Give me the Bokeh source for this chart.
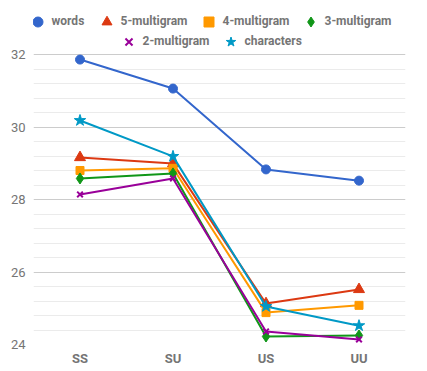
import numpy as np
from bokeh.plotting import figure
from bokeh.models import Legend, LegendItem, FixedTicker, Range1d, FactorRange
from bokeh.embed import file_html
from bokeh.resources import INLINE

categories = ["SS", "SU", "US", "UU"]
words = [31.86, 31.06, 28.83, 28.52]
multigram5 = [29.16, 28.99, 25.13, 25.52]
multigram4 = [28.80, 28.86, 24.88, 25.08]
multigram3 = [28.58, 28.72, 24.22, 24.25]
multigram2 = [28.14, 28.58, 24.36, 24.14]
characters = [30.18, 29.19, 25.05, 24.52]
y_ticks = [24, 26, 28, 30, 32]

series = [
    ("words", words, "#3366cc", "circle", 9),
    ("5-multigram", multigram5, "#dc3912", "triangle", 11),
    ("4-multigram", multigram4, "#ff9900", "square", 8),
    ("3-multigram", multigram3, "#109618", "diamond", 11),
    ("2-multigram", multigram2, "#990099", "x", 8),
    ("characters", characters, "#0099c6", "star", 12),
]
# legend glyph centres (screen px) and row
legend_pos = [(37, 0), (106, 0), (208, 0), (310, 0), (128, 1), (230, 1)]

FRAME_L, FRAME_B = 33, 344
PX_PER_UNIT = 290 / 8.0
y_top = 24 + FRAME_B / PX_PER_UNIT  # frame reaches the top of the canvas (room for legend)

p = figure(width=427, height=371, x_range=FactorRange(*categories, range_padding=0),
           y_range=Range1d(24, y_top), output_backend="svg", toolbar_location=None,
           min_border_left=FRAME_L, min_border_right=22, min_border_top=0,
           min_border_bottom=371 - FRAME_B)
p.outline_line_color = None
p.background_fill_color = "white"

minor = [round(v, 1) for v in np.arange(24.4, 32, 0.4) if abs(v - round(v / 2) * 2) > 1e-6]
p.yaxis.ticker = FixedTicker(ticks=y_ticks, minor_ticks=minor)
p.ygrid.grid_line_color = "#cccccc"
p.ygrid.minor_grid_line_color = "#ebebeb"
p.xgrid.grid_line_color = None
for ax in (p.xaxis[0], p.yaxis[0]):
    ax.axis_line_color = None
    ax.major_tick_line_color = None
    ax.minor_tick_line_color = None
    ax.major_tick_out = 0
    ax.minor_tick_out = 0
    ax.major_label_text_color = "#757575"
    ax.major_label_text_font = "Roboto"
    ax.major_label_text_font_size = "13px"
p.xaxis.major_label_text_font_style = "bold"
p.xaxis.major_label_standoff = 6
p.yaxis.major_label_standoff = 8

for (name, vals, color, marker, size), (cx, row) in zip(series, legend_pos):
    p.line(categories, vals, line_color=color, line_width=2)
    r = p.scatter(categories, vals, marker=marker, size=size, fill_color=color,
                  line_color=color, line_width=2 if marker == "x" else 1)
    cy = 21 if row == 0 else 41
    lg = Legend(items=[LegendItem(label=name, renderers=[r])], orientation="horizontal",
                location=(cx - 12.5 - FRAME_L, FRAME_B - (cy + 12.5)),
                border_line_color=None, background_fill_alpha=0,
                padding=0, margin=0, spacing=0, glyph_width=25, glyph_height=25,
                label_standoff=2, label_height=20,
                label_text_font="Roboto", label_text_font_size="12px",
                label_text_color="#757575", label_text_font_style="bold")
    p.add_layout(lg)

open("out.html", "w").write(file_html(p, INLINE))
